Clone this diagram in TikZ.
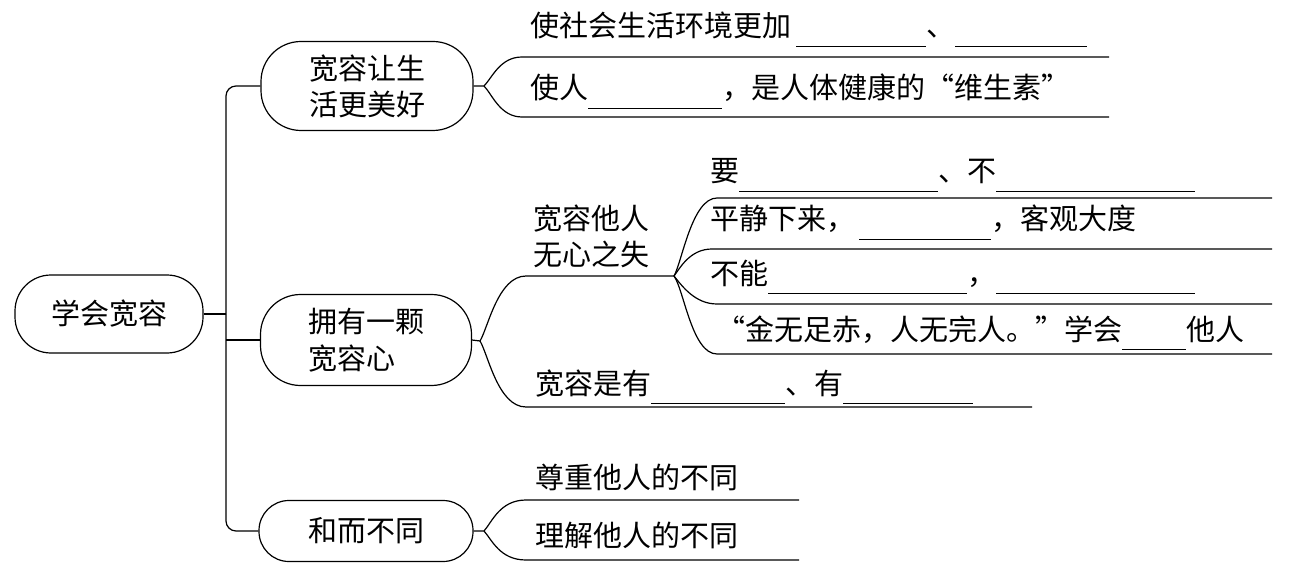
\documentclass[tikz,border=0pt]{standalone}
\usepackage{fontspec}
\setmainfont{Noto Sans CJK SC}
\newcommand{\blank}[1]{\rule[-10pt]{#1pt}{1.2pt}}

\begin{document}
\begin{tikzpicture}[x=1pt,y=-1pt,
    box/.style={draw,line width=1.2pt,rounded corners=#1,inner sep=0pt,
        align=center,font=\fontsize{29}{36}\selectfont},
    box/.default=40pt,
    txt/.style={anchor=base west,inner sep=0pt,font=\fontsize{29}{36}\selectfont},
    line/.style={line width=1.2pt}]
    \useasboundingbox (0,0) rectangle (1312,564);

    \node[box=36pt,minimum width=188pt,minimum height=78pt] (root) at (109,314) {学会宽容};
    \node[box,minimum width=212pt,minimum height=89pt] (life) at (367,86) {宽容让生\\活更美好};
    \node[box,minimum width=211pt,minimum height=91pt,align=left] (heart) at (366,340) {拥有一颗\\[1pt]宽容心};
    \node[box=30pt,minimum width=214pt,minimum height=61pt] (diff) at (366,531) {和而不同};

    \coordinate (trunk) at (226,314);
    \draw[line] (root.east) -- (trunk);
    \draw[line,rounded corners=10pt] (trunk) |- (life.west);
    \draw[line] (trunk |- heart.west) -- (heart.west);
    \draw[line,rounded corners=10pt] (trunk) |- (diff.west);

    \node[txt] (envir) at (530,37) {使社会生活环境更加\hspace{5pt}\blank{130}、\blank{132}};
    \node[txt] (vitamin) at (530,99) {使人\blank{134}，是人体健康的“维生素”};
    \coordinate (f1) at (484,86);
    \coordinate (a1) at (522,57);
    \coordinate (a1e) at (1109,57);
    \coordinate (b1) at (522,117);
    \coordinate (b1e) at (1109,117);
    \draw[line] (life.east) -- (f1) .. controls (492,78) and (500,57) .. (a1) -- (a1e);
    \draw[line] (f1) .. controls (492,94) and (500,117) .. (b1) -- (b1e);

    \node[txt,anchor=south west,align=left] (mistake) at (533,268) {宽容他人\\无心之失};
    \node[txt] (must) at (710,182) {要\blank{199}、不\blank{199}};
    \node[txt] (calm) at (710,230) {平静下来，\hspace{4pt}\blank{132}，客观大度};
    \node[txt] (cannot) at (710,284) {不能\blank{199}，\blank{199}};
    \node[txt] (gold) at (716,340) {“金无足赤，人无完人。”学会\blank{64}他人};
    \node[txt] (virtue) at (535,394) {宽容是有\blank{134}、有\blank{130}};
    \coordinate (f2) at (480,341);
    \coordinate (a2) at (526,276);
    \coordinate (g) at (674,276);
    \coordinate (b2) at (526,407);
    \coordinate (b2e) at (1032,407);
    \draw[line] (heart.east) -- (f2) .. controls (488,328) and (498,276) .. (a2) -- (g);
    \draw[line] (f2) .. controls (488,354) and (498,407) .. (b2) -- (b2e);
    \coordinate (m1) at (717,198);
    \coordinate (m2) at (712,249);
    \coordinate (m3) at (717,304);
    \coordinate (m4) at (717,354);
    \draw[line] (g) .. controls (682,262) and (692,198) .. (m1) -- (1272,198);
    \draw[line] (g) .. controls (680,268) and (690,249) .. (m2) -- (1272,249);
    \draw[line] (g) .. controls (682,286) and (695,304) .. (m3) -- (1272,304);
    \draw[line] (g) .. controls (684,290) and (692,354) .. (m4) -- (1272,354);

    \node[txt] (respect) at (535,488) {尊重他人的不同};
    \node[txt] (understand) at (535,546) {理解他人的不同};
    \coordinate (f3) at (484,531);
    \coordinate (a3) at (526,500);
    \coordinate (b3) at (526,560);
    \draw[line] (diff.east) -- (f3) .. controls (492,522) and (500,500) .. (a3) -- (799,500);
    \draw[line] (f3) .. controls (492,540) and (500,560) .. (b3) -- (799,560);
\end{tikzpicture}
\end{document}
